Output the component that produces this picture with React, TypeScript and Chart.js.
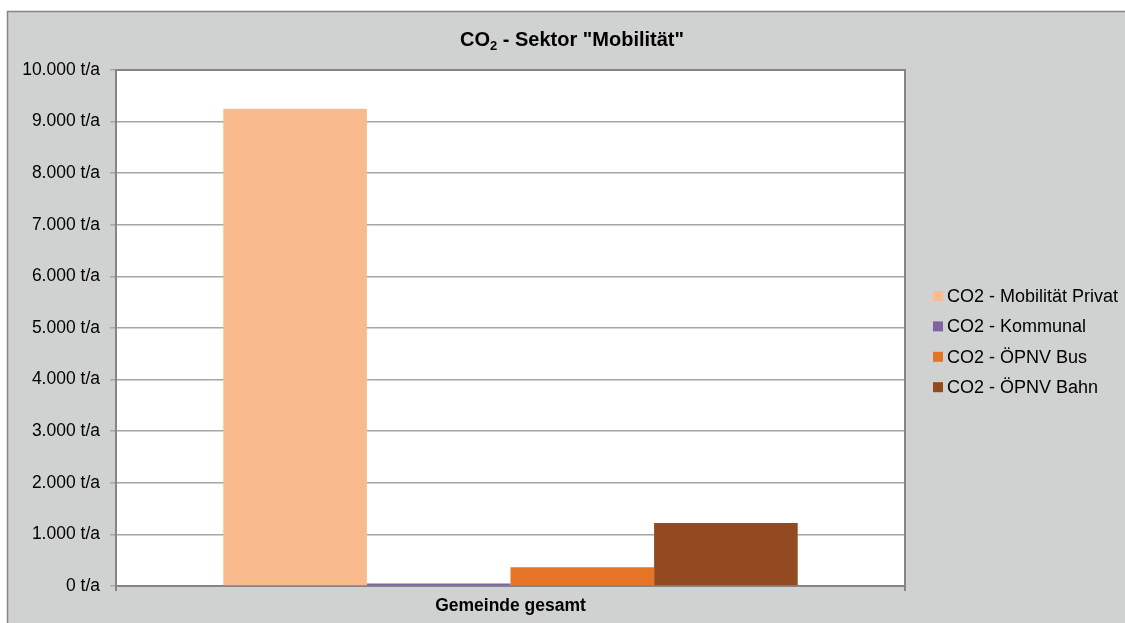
import React, { useEffect, useRef } from "react";
import { Chart, registerables } from "chart.js";

Chart.register(...registerables);

// Chart data
const categories = ["Gemeinde gesamt"];
const seriesNames = [
  "CO2 - Mobilität Privat",
  "CO2 - Kommunal",
  "CO2 - ÖPNV Bus",
  "CO2 - ÖPNV Bahn",
];
const seriesValues = [9250, 50, 365, 1220];
const seriesColors = ["#F9BB8D", "#8064A2", "#E57426", "#934A20"];
const yMin = 0;
const yMax = 10000;
const yStep = 1000;

const FONT = "'Liberation Sans', Arial, Helvetica, sans-serif";
const BG = "#D0D2D1";
const FRAME = "#858585";

function formatTons(v: number): string {
  const s = Math.round(v).toString().replace(/\B(?=(\d{3})+(?!\d))/g, ".");
  return s + " t/a";
}

// Grey chart frame, white plot area, plot border
const framePlugin = {
  id: "frame",
  beforeDraw(chart: any) {
    const { ctx, width, height, chartArea } = chart;
    ctx.save();
    ctx.fillStyle = "#FFFFFF";
    ctx.fillRect(0, 0, width, height);
    ctx.fillStyle = BG;
    ctx.fillRect(7, 11, width - 7, height - 11);
    ctx.strokeStyle = FRAME;
    ctx.lineWidth = 1.5;
    ctx.beginPath();
    ctx.moveTo(7.5, height);
    ctx.lineTo(7.5, 11.5);
    ctx.lineTo(width, 11.5);
    ctx.stroke();
    ctx.fillStyle = "#FFFFFF";
    ctx.fillRect(
      chartArea.left,
      chartArea.top,
      chartArea.right - chartArea.left,
      chartArea.bottom - chartArea.top
    );
    ctx.restore();
  },
  afterDatasetsDraw(chart: any) {
    const { ctx, chartArea } = chart;
    ctx.save();
    ctx.strokeStyle = FRAME;
    ctx.lineWidth = 2;
    ctx.beginPath();
    ctx.moveTo(chartArea.left, chartArea.top);
    ctx.lineTo(chartArea.right, chartArea.top);
    ctx.lineTo(chartArea.right, chartArea.bottom);
    ctx.stroke();
    ctx.restore();
  },
};

// Title with subscript "2"
const titlePlugin = {
  id: "subTitle",
  afterDraw(chart: any) {
    const { ctx } = chart;
    const parts = [
      { t: "CO", size: 20, dy: 0 },
      { t: "2", size: 13, dy: 4 },
      { t: " - Sektor \"Mobilität\"", size: 20, dy: 0 },
    ];
    ctx.save();
    ctx.fillStyle = "#000000";
    ctx.textBaseline = "alphabetic";
    ctx.textAlign = "left";
    let total = 0;
    for (const p of parts) {
      ctx.font = `bold ${p.size}px ${FONT}`;
      total += ctx.measureText(p.t).width;
    }
    let x = 572 - total / 2;
    const baseY = 46;
    for (const p of parts) {
      ctx.font = `bold ${p.size}px ${FONT}`;
      ctx.fillText(p.t, x, baseY + p.dy);
      x += ctx.measureText(p.t).width;
    }
    ctx.restore();
  },
};

// Legend to the right of the plot
const legendPlugin = {
  id: "sideLegend",
  afterDraw(chart: any) {
    const { ctx } = chart;
    ctx.save();
    ctx.font = `18px ${FONT}`;
    ctx.textBaseline = "middle";
    ctx.textAlign = "left";
    chart.data.datasets.forEach((ds: any, i: number) => {
      const y = 296 + i * 30.4;
      ctx.fillStyle = ds.backgroundColor;
      ctx.fillRect(933, y - 5, 10, 10);
      ctx.fillStyle = "#000000";
      ctx.fillText(ds.label, 947, y + 1);
    });
    ctx.restore();
  },
};

export default function App() {
  const canvasRef = useRef<HTMLCanvasElement | null>(null);

  useEffect(() => {
    const canvas = canvasRef.current;
    if (!canvas) return;
    const chart = new Chart(canvas, {
      type: "bar",
      data: {
        labels: categories,
        datasets: seriesNames.map((name, i) => ({
          label: name,
          data: [seriesValues[i]],
          backgroundColor: seriesColors[i],
          borderWidth: 0,
          barPercentage: 1,
          categoryPercentage: 0.728,
        })),
      },
      options: {
        responsive: false,
        animation: false,
        devicePixelRatio: 1,
        layout: { padding: { left: 0, top: 70, right: 220, bottom: 0 } },
        plugins: {
          legend: { display: false },
          title: { display: false },
          tooltip: { enabled: false },
        },
        scales: {
          x: {
            offset: true,
            afterFit(scale: any) {
              scale.height = 37;
            },
            grid: {
              offset: true,
              drawOnChartArea: false,
              drawTicks: true,
              tickLength: 5,
              color: FRAME,
              lineWidth: 2,
            },
            border: { color: FRAME, width: 2 },
            ticks: {
              color: "#000000",
              padding: 5,
              font: { family: FONT, size: 17.5, weight: "bold" },
            },
          },
          y: {
            min: yMin,
            max: yMax,
            afterFit(scale: any) {
              scale.width = 116;
            },
            grid: {
              color: "#A6A6A6",
              lineWidth: 1.5,
              drawTicks: true,
              tickLength: 6,
            },
            border: { color: FRAME, width: 2 },
            ticks: {
              stepSize: yStep,
              padding: 10,
              color: "#000000",
              font: { family: FONT, size: 17.5 },
              callback: (v: any) => formatTons(Number(v)),
            },
          },
        },
      },
      plugins: [framePlugin, titlePlugin, legendPlugin],
    });
    return () => chart.destroy();
  }, []);

  return (
    <div style={{ position: "absolute", left: 0, top: 0, width: 1125, height: 623 }}>
      <canvas ref={canvasRef} width={1125} height={623} style={{ display: "block" }} />
    </div>
  );
}
